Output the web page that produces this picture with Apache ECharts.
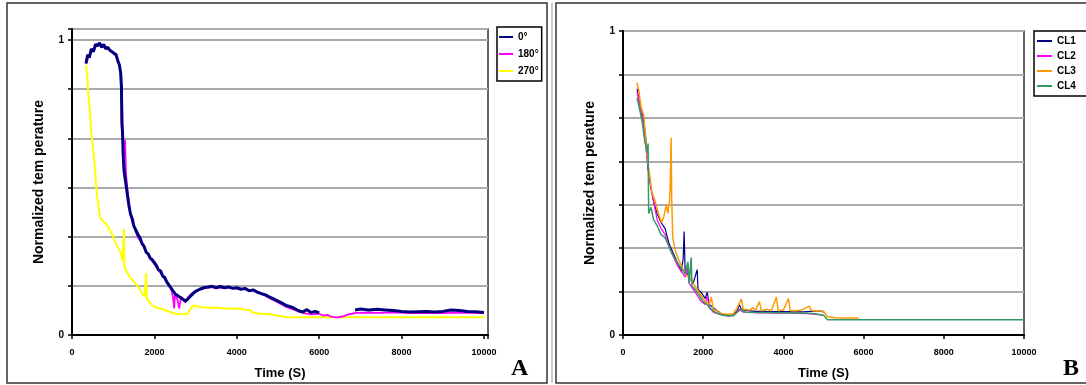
<!DOCTYPE html>
<html><head><meta charset="utf-8">
<script src="https://cdn.jsdelivr.net/npm/echarts@6/dist/echarts.min.js"></script>
<style>html,body{margin:0;padding:0;background:#fff}#c{width:1086px;height:385px}</style>
</head><body><div id="c"></div>
<script>
// ---- Data (time in s, normalized temperature) ----
const xTicks = [0, 2000, 4000, 6000, 8000, 10000];
const namesA = ['0°', '180°', '270°'];
const namesB = ['CL1', 'CL2', 'CL3', 'CL4'];

const a0 = [[340,0.92],[380,0.95],[420,0.94],[470,0.97],[520,0.96],[570,0.985],[620,0.98],[670,0.99],[720,0.975],[770,0.985],[820,0.97],[870,0.975],[920,0.965],[970,0.96],[1020,0.955],[1070,0.95],[1110,0.93],[1150,0.915],[1180,0.89],[1200,0.84],[1210,0.72],[1225,0.69],[1240,0.62],[1260,0.56],[1290,0.53],[1320,0.50],[1350,0.47],[1380,0.44],[1420,0.41],[1460,0.395],[1500,0.37],[1550,0.355],[1600,0.34],[1650,0.33],[1700,0.31],[1750,0.30],[1800,0.28],[1850,0.275],[1900,0.26],[1950,0.255],[2000,0.245],[2050,0.235],[2100,0.22],[2150,0.218],[2200,0.20],[2250,0.195],[2300,0.18],[2350,0.17],[2400,0.16],[2450,0.15],[2500,0.14],[2550,0.135],[2600,0.13],[2650,0.125],[2700,0.12],[2750,0.115],[2800,0.12],[2850,0.128],[2900,0.135],[2950,0.142],[3000,0.148],[3100,0.155],[3200,0.16],[3300,0.163],[3400,0.165],[3500,0.16],[3600,0.165],[3700,0.16],[3800,0.163],[3900,0.158],[4000,0.16],[4100,0.155],[4200,0.158],[4300,0.15],[4400,0.153],[4500,0.145],[4600,0.14],[4700,0.136],[4800,0.128],[4900,0.122],[5000,0.115],[5100,0.108],[5200,0.10],[5300,0.096],[5400,0.09],[5500,0.082],[5600,0.078],[5700,0.086],[5800,0.076],[5900,0.08],[6000,0.075],[6100,null],[6870,0.085],[7000,0.088],[7200,0.085],[7400,0.087],[7600,0.085],[7800,0.083],[8000,0.08],[8200,0.078],[8400,0.079],[8600,0.08],[8800,0.078],[9000,0.08],[9200,0.085],[9400,0.083],[9600,0.08],[9800,0.079],[10000,0.076]];

const a180 = [[340,0.92],[400,0.945],[460,0.96],[520,0.97],[600,0.98],[680,0.985],[760,0.98],[840,0.97],[920,0.965],[1000,0.955],[1080,0.945],[1140,0.92],[1190,0.88],[1215,0.80],[1230,0.68],[1250,0.66],[1270,0.60],[1290,0.66],[1310,0.55],[1340,0.50],[1380,0.45],[1430,0.40],[1500,0.37],[1600,0.33],[1700,0.31],[1800,0.285],[1900,0.26],[2000,0.24],[2100,0.22],[2200,0.20],[2300,0.18],[2400,0.16],[2450,0.13],[2480,0.09],[2500,0.14],[2560,0.12],[2600,0.09],[2650,0.13],[2700,0.12],[2750,0.11],[2800,0.125],[2900,0.14],[3000,0.15],[3200,0.158],[3400,0.162],[3600,0.16],[3800,0.16],[4000,0.158],[4200,0.155],[4400,0.15],[4600,0.14],[4800,0.125],[5000,0.11],[5200,0.095],[5400,0.085],[5600,0.075],[5800,0.07],[6000,0.072],[6100,0.066],[6200,0.068],[6300,0.062],[6400,0.06],[6500,0.061],[6600,0.064],[6700,0.07],[6800,0.072],[6900,0.075],[7200,0.076],[7500,0.075],[7800,0.077],[8100,0.075],[8400,0.074],[8700,0.075],[9000,0.074],[9300,0.076],[9600,0.075],[10000,0.074]];

const a270 = [[340,0.915],[370,0.88],[390,0.83],[410,0.80],[440,0.75],[460,0.70],[490,0.66],[520,0.62],[560,0.56],[590,0.50],[610,0.47],[640,0.44],[680,0.40],[720,0.39],[760,0.385],[800,0.38],[860,0.37],[920,0.355],[980,0.34],[1040,0.32],[1100,0.30],[1165,0.285],[1200,0.27],[1230,0.25],[1260,0.36],[1270,0.24],[1290,0.225],[1350,0.21],[1410,0.195],[1500,0.18],[1560,0.17],[1650,0.155],[1700,0.14],[1760,0.13],[1800,0.21],[1820,0.12],[1890,0.11],[1950,0.10],[2000,0.095],[2140,0.09],[2250,0.085],[2380,0.078],[2500,0.072],[2620,0.07],[2750,0.07],[2810,0.072],[2880,0.09],[2950,0.10],[3000,0.098],[3100,0.095],[3300,0.092],[3500,0.093],[3700,0.09],[3900,0.09],[4100,0.088],[4300,0.085],[4400,0.075],[4600,0.072],[4800,0.07],[5000,0.065],[5200,0.06],[6000,0.06],[7000,0.06],[8000,0.06],[9000,0.06],[10000,0.06]];

const b1 = [[350,0.81],[420,0.76],[500,0.72],[560,0.66],[620,0.55],[700,0.48],[780,0.43],[850,0.40],[950,0.37],[1050,0.35],[1150,0.30],[1250,0.27],[1350,0.24],[1450,0.21],[1500,0.25],[1525,0.34],[1550,0.21],[1650,0.19],[1750,0.17],[1850,0.215],[1870,0.15],[1950,0.14],[2050,0.12],[2100,0.14],[2150,0.10],[2250,0.09],[2350,0.08],[2450,0.07],[2600,0.065],[2750,0.065],[2850,0.08],[2900,0.10],[2950,0.085],[3100,0.08],[3300,0.078],[3500,0.078],[3700,0.077],[3900,0.077],[4100,0.077],[4300,0.076],[4500,0.076],[4700,0.078],[4900,0.08],[5000,0.075]];

const b2 = [[350,0.80],[430,0.75],[520,0.68],[600,0.58],[680,0.50],[760,0.44],[850,0.38],[950,0.35],[1050,0.33],[1150,0.29],[1250,0.26],[1350,0.23],[1450,0.21],[1550,0.19],[1600,0.22],[1650,0.17],[1750,0.15],[1850,0.13],[1950,0.11],[2050,0.10],[2100,0.13],[2150,0.09],[2250,0.075],[2350,0.07],[2500,0.065],[2650,0.062],[2800,0.07],[2900,0.085],[3000,0.075],[3200,0.074],[3400,0.073],[3600,0.073],[3800,0.072],[4000,0.072],[4200,0.072],[4400,0.071],[4600,0.07],[4800,0.068],[5000,0.065]];

const b3 = [[350,0.83],[400,0.80],[450,0.75],[520,0.72],[580,0.62],[650,0.54],[720,0.47],[800,0.44],[880,0.40],[960,0.37],[1020,0.39],[1080,0.43],[1120,0.40],[1160,0.44],[1180,0.50],[1200,0.65],[1215,0.45],[1240,0.32],[1300,0.28],[1380,0.25],[1450,0.23],[1550,0.20],[1650,0.19],[1750,0.17],[1850,0.15],[1950,0.13],[2050,0.11],[2150,0.10],[2200,0.125],[2250,0.085],[2350,0.08],[2450,0.07],[2600,0.068],[2750,0.07],[2850,0.09],[2950,0.118],[3000,0.085],[3150,0.082],[3250,0.09],[3300,0.08],[3400,0.11],[3450,0.08],[3600,0.085],[3700,0.08],[3825,0.125],[3870,0.08],[4000,0.082],[4125,0.12],[4170,0.08],[4300,0.08],[4450,0.082],[4650,0.095],[4700,0.08],[4850,0.08],[5000,0.078],[5100,0.06],[5300,0.057],[5500,0.056],[5700,0.056],[5875,0.056]];

const b4 = [[350,0.78],[420,0.74],[480,0.70],[540,0.64],[600,0.60],[625,0.63],[640,0.40],[700,0.42],[760,0.38],[850,0.36],[950,0.33],[1050,0.32],[1150,0.29],[1250,0.26],[1350,0.24],[1450,0.22],[1550,0.20],[1620,0.24],[1650,0.17],[1700,0.255],[1720,0.16],[1800,0.15],[1900,0.13],[2000,0.11],[2100,0.10],[2200,0.085],[2300,0.075],[2450,0.066],[2600,0.063],[2750,0.063],[2850,0.075],[2950,0.085],[3050,0.075],[3300,0.074],[3600,0.074],[3900,0.073],[4200,0.073],[4500,0.072],[4800,0.07],[5000,0.065],[5100,0.05],[6000,0.05],[8000,0.05],[10000,0.05]];

// ---- Chart ----
const font = 'Liberation Sans, Arial, sans-serif';
const chart = echarts.init(document.getElementById('c'), null, {renderer: 'canvas'});
function xAx(gi, max) {
  return {
    type: 'value', gridIndex: gi, min: 0, max: max, interval: 2000,
    name: 'Time (S)', nameLocation: 'middle', nameGap: 32,
    nameTextStyle: {fontFamily: font, fontWeight: 'bold', fontSize: 13, color: '#000'},
    axisLine: {lineStyle: {color: '#000', width: 2}},
    axisTick: {show: true, inside: false, length: 4, lineStyle: {color: '#000', width: 1.5}},
    axisLabel: {fontFamily: font, fontWeight: 'bold', fontSize: 9, color: '#000', margin: 13,
      formatter: v => (xTicks.indexOf(v) >= 0 ? String(v) : '')},
    splitLine: {show: false}
  };
}
function yAx(gi, max, step) {
  return {
    type: 'value', gridIndex: gi, min: 0, max: max, interval: step,
    name: 'Normalized tem perature', nameLocation: 'middle', nameGap: 26,
    nameTextStyle: {fontFamily: font, fontWeight: 'bold', fontSize: 14, color: '#000'},
    axisLine: {show: true, lineStyle: {color: '#000', width: 2}},
    axisTick: {show: true, inside: false, length: 4, lineStyle: {color: '#000', width: 1.5}},
    axisLabel: {fontFamily: font, fontWeight: 'bold', fontSize: 10, color: '#000', margin: 8,
      formatter: v => (Math.abs(v) < 1e-6 ? '0' : (Math.abs(v - 1) < 1e-6 ? '1' : ''))},
    splitLine: {show: true, lineStyle: {color: '#aaa', width: 2}}
  };
}
function line(name, data, color, xi, z, w) {
  return {name: name, type: 'line', xAxisIndex: xi, yAxisIndex: xi, data: data, z: z,
    showSymbol: false, connectNulls: false, animation: false,
    lineStyle: {color: color, width: w}, itemStyle: {color: color}};
}
const legText = {fontFamily: font, fontWeight: 'bold', fontSize: 10, color: '#000'};
chart.setOption({
  animation: false,
  backgroundColor: '#fff',
  grid: [
    {left: 72, top: 29, width: 416, height: 306, show: true, borderColor: '#333', borderWidth: 1.5, backgroundColor: 'transparent'},
    {left: 623, top: 31, width: 401, height: 305, show: true, borderColor: '#333', borderWidth: 1.5, backgroundColor: 'transparent'}
  ],
  xAxis: [xAx(0, 10097), xAx(1, 10000)],
  yAxis: [yAx(0, 1.037, 1/6), yAx(1, 1, 1/7)],
  legend: [
    {data: namesA, left: 497, top: 27, orient: 'vertical', icon: 'rect', itemWidth: 14, itemHeight: 2,
     itemGap: 7, padding: [5, 3, 5, 2], borderColor: '#000', borderWidth: 1.5, textStyle: legText},
    {data: namesB, left: 1034, top: 31, orient: 'vertical', icon: 'rect', itemWidth: 15, itemHeight: 2,
     itemGap: 5, padding: [5, 30, 5, 3], borderColor: '#000', borderWidth: 1.5, textStyle: legText}
  ],
  series: [
    line(namesA[0], a0, '#000080', 0, 5, 3),
    line(namesA[1], a180, '#ff00ff', 0, 4, 1.8),
    line(namesA[2], a270, '#ffff00', 0, 3, 2),
    line(namesB[0], b1, '#000080', 1, 3, 1.2),
    line(namesB[1], b2, '#ff00ff', 1, 3, 1.2),
    line(namesB[2], b3, '#ff9900', 1, 3, 1.5),
    line(namesB[3], b4, '#339966', 1, 4, 1.5)
  ],
  graphic: [
    {type: 'rect', shape: {x: 7, y: 3, width: 540, height: 380}, style: {fill: 'none', stroke: '#333', lineWidth: 1.5}, silent: true},
    {type: 'rect', shape: {x: 556, y: 3, width: 560, height: 380}, style: {fill: 'none', stroke: '#333', lineWidth: 1.5}, silent: true},
    {type: 'line', shape: {x1: 552, y1: 3, x2: 552, y2: 383}, style: {stroke: '#999', lineWidth: 1}, silent: true},
    {type: 'text', left: 511, top: 357, style: {text: 'A', font: 'bold 24px "Liberation Serif", serif', fill: '#000'}},
    {type: 'text', left: 1063, top: 357, style: {text: 'B', font: 'bold 24px "Liberation Serif", serif', fill: '#000'}}
  ]
});
</script></body></html>
